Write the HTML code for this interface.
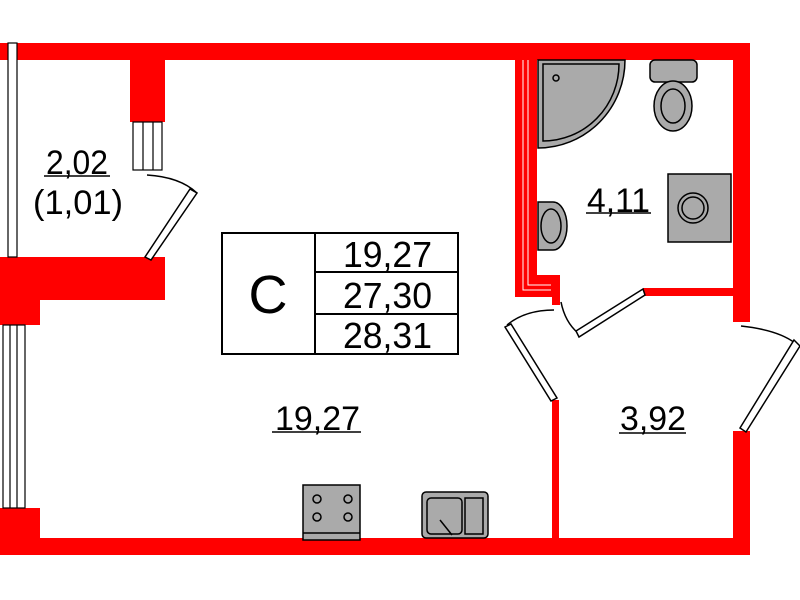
<!DOCTYPE html>
<html><head><meta charset="utf-8"><style>
html,body{margin:0;padding:0;background:#fff;width:800px;height:600px;overflow:hidden}
svg{display:block}
text{font-family:"Liberation Sans",sans-serif;fill:#000}
</style></head><body>
<svg width="800" height="600" viewBox="0 0 800 600">
<g fill="#ff0000">
<rect x="0" y="43" width="750" height="17"/>
<rect x="733" y="43" width="17" height="279"/>
<rect x="733" y="431" width="17" height="124"/>
<rect x="0" y="538" width="750" height="17"/>
<rect x="130" y="43" width="35" height="79"/>
<rect x="0" y="257" width="165" height="43"/>
<rect x="0" y="300" width="40" height="25"/>
<rect x="0" y="508" width="40" height="32"/>
<rect x="515" y="60" width="22" height="237"/>
<rect x="515" y="275" width="45" height="22"/>
<rect x="552" y="275" width="8" height="30"/>
<rect x="643" y="288" width="92" height="8"/>
<rect x="552" y="400" width="7" height="140"/>
</g>
<g stroke="#fff" stroke-width="1" fill="none">
<polyline points="523,60 523,290 551,290"/>
<polyline points="528,60 528,285 551,285"/>
</g>
<g stroke="#000" stroke-width="1.2" fill="#fff">
<rect x="8" y="43" width="9" height="214"/>
<rect x="3" y="325" width="22" height="183"/>
<line x1="10" y1="325" x2="10" y2="508"/><line x1="17" y1="325" x2="17" y2="508"/>
<rect x="133" y="122" width="29" height="48"/>
<line x1="143" y1="122" x2="143" y2="170"/><line x1="153" y1="122" x2="153" y2="170"/>
</g>
<g stroke="#000" stroke-width="1.5" fill="none">
<path d="M147,175 Q180,177 197,193"/>
<polygon points="197,193 190,189 145,257 151,260" fill="#fff"/>
<path d="M561,302 Q565,322 578,333"/>
<polygon points="576,331 643,289 645,295 579,337" fill="#fff"/>
<path d="M554,310 Q525,310 507,325"/>
<polygon points="505,327 511,324 557,398 551,401" fill="#fff"/>
<path d="M741,326 Q778,330 795,343"/>
<polygon points="794,340 800,346 746,432 740,428" fill="#fff"/>
</g>
<g stroke="#000" stroke-width="2" fill="none">
<rect x="222" y="233" width="236" height="121"/>
<line x1="315" y1="233" x2="315" y2="354"/>
<line x1="315" y1="272" x2="458" y2="272"/>
<line x1="315" y1="314" x2="458" y2="314"/>
</g>
<text x="268" y="313" font-size="54" text-anchor="middle">С</text>
<g font-size="36">
<text x="343" y="267" textLength="89" lengthAdjust="spacingAndGlyphs">19,27</text>
<text x="343" y="308" textLength="89" lengthAdjust="spacingAndGlyphs">27,30</text>
<text x="343" y="348" textLength="89" lengthAdjust="spacingAndGlyphs">28,31</text>
</g>
<g font-size="34">
<text x="46" y="174" textLength="62" lengthAdjust="spacingAndGlyphs">2,02</text>
<text x="33" y="214" textLength="90" lengthAdjust="spacingAndGlyphs">(1,01)</text>
<text x="275" y="430" textLength="85" lengthAdjust="spacingAndGlyphs">19,27</text>
<text x="620" y="430" textLength="66" lengthAdjust="spacingAndGlyphs">3,92</text>
<text x="587" y="212" textLength="63" lengthAdjust="spacingAndGlyphs">4,11</text>
</g>
<g stroke="#000" stroke-width="1.5">
<line x1="44" y1="176" x2="110" y2="176"/>
<line x1="272" y1="432" x2="361" y2="432"/>
<line x1="619" y1="433" x2="686" y2="433"/>
<line x1="586" y1="213" x2="651" y2="213"/>
</g>
<g stroke="#000" stroke-width="1.5" fill="#aaa">
<path d="M538,60 L625,60 A87,88 0 0 1 538,148 Z"/>
<path d="M543,64 L619,64 A76,77 0 0 1 543,141 Z" fill="none"/>
<circle cx="556" cy="78" r="3"/>
<rect x="650" y="60" width="47" height="22" rx="5"/>
<ellipse cx="673" cy="106" rx="19" ry="25"/>
<ellipse cx="673" cy="106" rx="12" ry="17" fill="none"/>
<rect x="668" y="174" width="63" height="68"/>
<circle cx="693" cy="208" r="15" fill="none"/>
<circle cx="693" cy="208" r="11" fill="none"/>
<path d="M538,202 L553,202 A14,24 0 0 1 553,250 L538,250 Z"/>
<ellipse cx="551" cy="226" rx="10" ry="17" fill="none"/>
<rect x="303" y="485" width="57" height="55"/>
<line x1="303" y1="533" x2="360" y2="533"/>
<circle cx="317" cy="499" r="4" fill="none"/><circle cx="348" cy="499" r="4" fill="none"/>
<circle cx="317" cy="517" r="4" fill="none"/><circle cx="348" cy="517" r="4" fill="none"/>
<rect x="422" y="492" width="66" height="46" rx="4"/>
<rect x="427" y="498" width="35" height="36" rx="4" fill="none"/>
<rect x="465" y="498" width="18" height="36" fill="none"/>
<line x1="440" y1="520" x2="452" y2="535"/>
</g>
</svg>
</body></html>
